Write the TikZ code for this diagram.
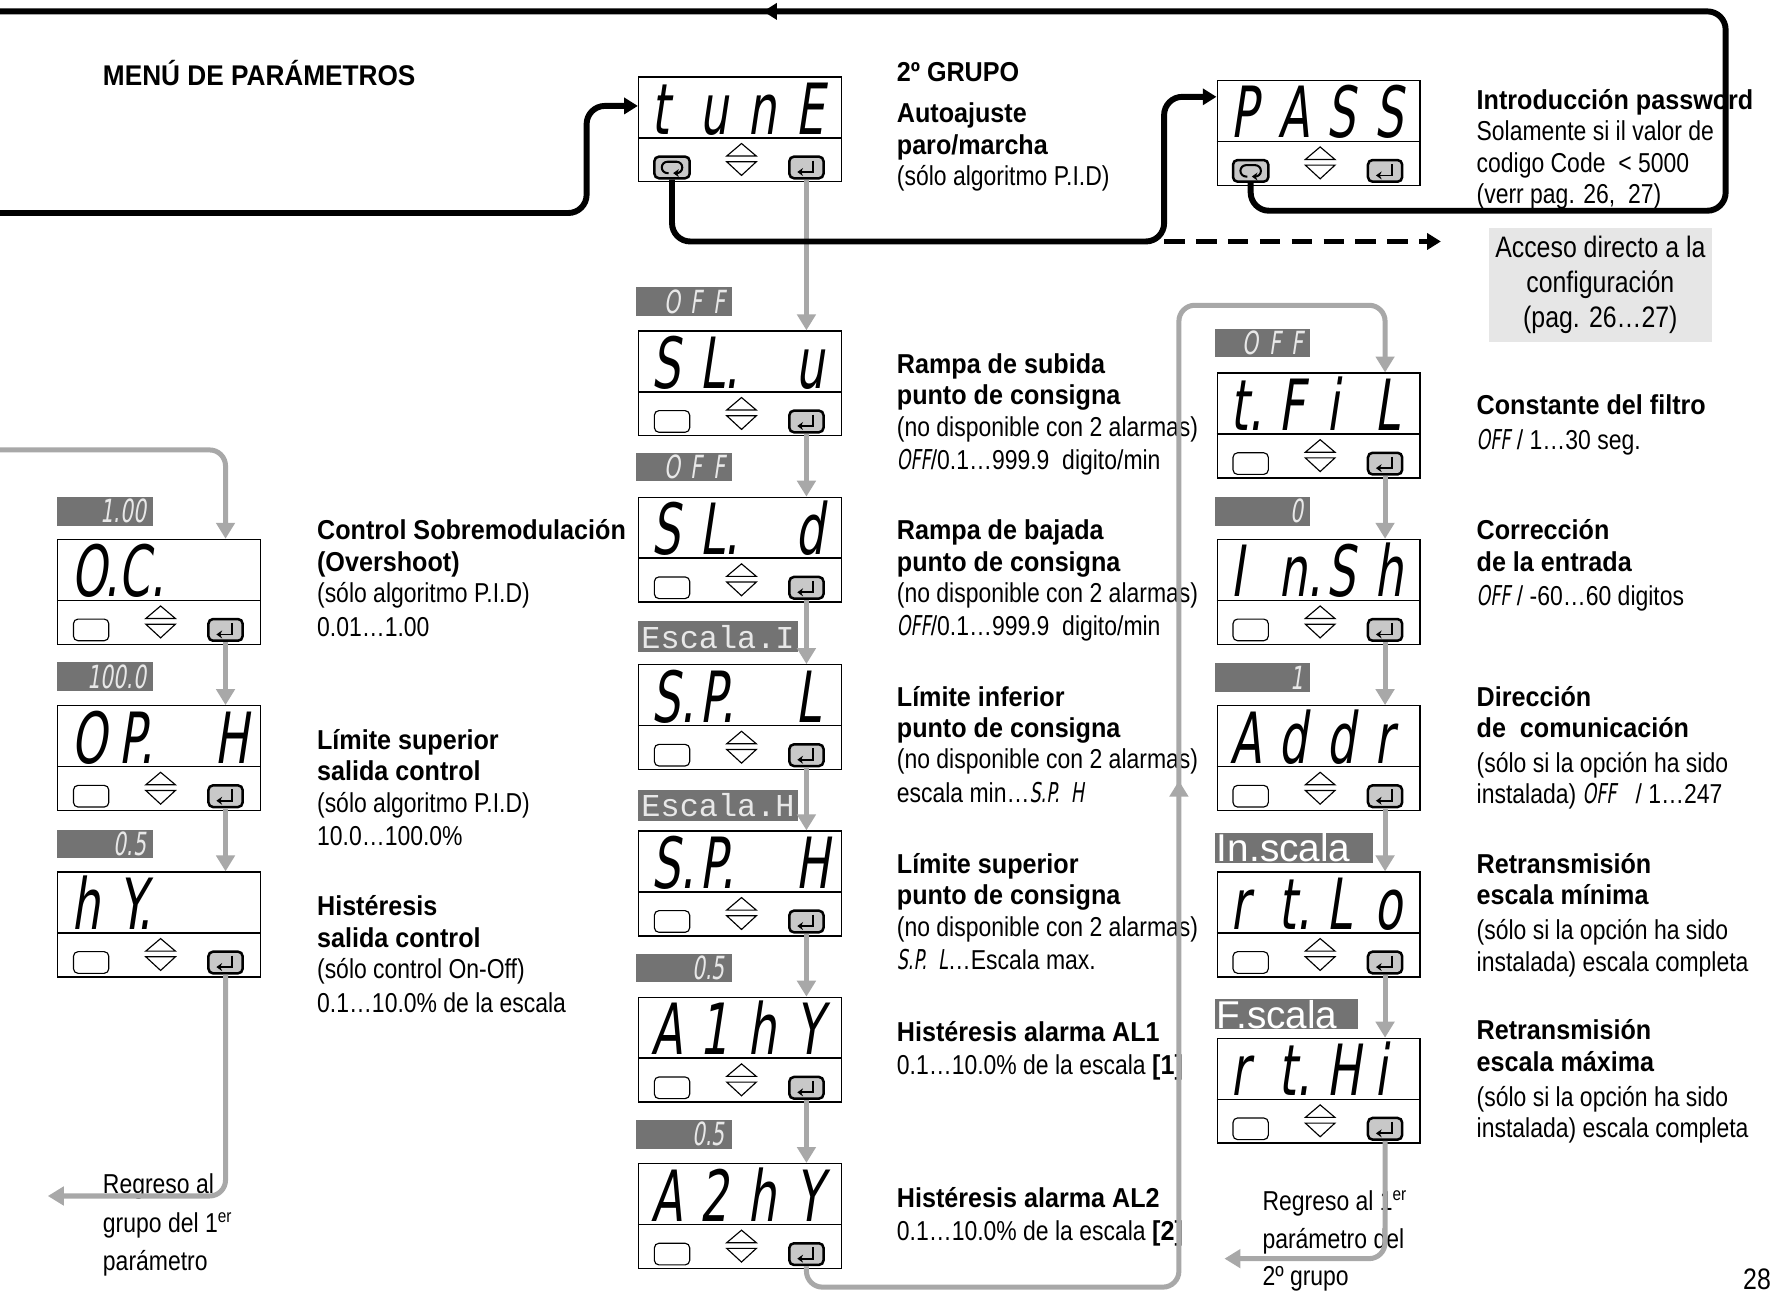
\documentclass[tikz,border=0pt]{standalone}
\usepackage{fontspec}
\setmainfont{Liberation Sans}[UprightFeatures={FakeStretch=0.84},BoldFeatures={FakeStretch=0.92}]
\newfontfamily\segfont{DejaVu Sans}[FakeSlant=0.15,FakeStretch=0.64]
\newfontfamily\tagmono{Liberation Mono}
\newfontfamily\tagsans{Liberation Sans}
\usetikzlibrary{arrows.meta, positioning, decorations.markings}

\definecolor{lgray}{HTML}{A8A8A8}
\definecolor{tagfill}{HTML}{737373}
\definecolor{tagtext}{HTML}{E8E8E8}
\definecolor{btngray}{HTML}{C8C8C8}
\definecolor{boxgray}{HTML}{E6E6E6}

% seven segment look, inline and in display cells
\newcommand{\sg}[1]{{\segfont #1}}
\newcommand{\dc}[1]{\makebox[21pt][l]{#1}}
% one keypad: [left key style]{name}{x}{y}{cell1}{cell2}{cell3}{cell4}
\newcommand{\panel}[8][plainbtn]{%
  \node[panelbox] (#2) at (#3,#4) {};
  \draw[line width=0.6pt] (#3,#4+54) -- (#3+178,#4+54);
  \node[dispfont, anchor=base west] at (#3+12,#4+51) {\dc{#5}\dc{#6}\dc{#7}\dc{#8}};
  \node[#1] (#2-esc) at (#3+30,#4+80) {};
  \draw[line width=0.5pt] (#3+78,#4+70) -- (#3+91,#4+59) -- (#3+104,#4+70) -- cycle;
  \draw[line width=0.5pt] (#3+78,#4+75) -- (#3+91,#4+87) -- (#3+104,#4+75) -- cycle;
  \node[okbtn] (#2-ok) at (#3+148,#4+80) {};
  \draw[line width=0.8pt, -{Stealth[length=2.5pt,width=3.5pt]}] (#3+154,#4+74) -- (#3+154,#4+84) -- (#3+140,#4+84);
}
\newcommand{\loopkey}[1]{\draw[line width=0.9pt, rounded corners=2.5pt, -{Stealth[length=2.5pt,width=3.5pt]}] ([shift={(-3,5)}]#1.center) -- ++(-6,0) -- ++(0,-10) -- ++(18,0) -- ++(0,10) -- ++(-8,0);}

\begin{document}
\begin{tikzpicture}[x=0.5pt, y=-0.5pt,
    panelbox/.style={draw, line width=0.6pt, anchor=north west, minimum width=89pt, minimum height=46pt, inner sep=0pt},
    plainbtn/.style={draw, line width=0.5pt, rounded corners=2pt, minimum width=15.5pt, minimum height=9.5pt, inner sep=0pt},
    escbtn/.style={plainbtn, fill=btngray, line width=1.1pt},
    okbtn/.style={plainbtn, fill=btngray, line width=1.1pt, minimum width=15pt},
    dispfont/.style={inner sep=0pt, font=\segfont\fontsize{31}{31}\selectfont},
    tag/.style={fill=tagfill, text=tagtext, anchor=north west, minimum height=12.5pt, text width=36pt, align=right, inner xsep=3pt, inner ysep=0pt, font=\segfont\fontsize{14}{14}\selectfont},
    mtag/.style={fill=tagfill, text=tagtext, anchor=north west, minimum width=70pt, minimum height=13.5pt, inner sep=0pt, font=\tagmono\fontsize{14}{14}\selectfont},
    stag/.style={fill=tagfill, text=white, anchor=north west, minimum height=13pt, inner xsep=1pt, inner ysep=0pt, align=left, font=\tagsans\fontsize{17}{17}\selectfont},
    desc/.style={anchor=north west, align=left, inner sep=0pt, font=\fontsize{12}{13.75}\selectfont},
    gline/.style={draw=lgray, line width=2.2pt, rounded corners=7pt},
    bline/.style={draw=black, line width=2.6pt, rounded corners=8pt},
    gtip/.style={-{Triangle[length=7pt,width=8pt]}},
    btip/.style={-{Triangle[length=6pt,width=7pt]}}
]
\path[fill=white] (0,0) rectangle (1568,1136);
\useasboundingbox (0,0) rectangle (1568,1136);

% keypads
\panel[escbtn]{tune}{560}{67}{t}{u}{n}{E}
\panel[escbtn]{pass}{1068}{70}{P}{A}{S}{S}
\loopkey{tune-esc}
\loopkey{pass-esc}
\panel{slu}{560}{290}{S}{L.}{}{u}
\panel{sld}{560}{436}{S}{L.}{}{d}
\panel{spl}{560}{583}{S.}{P.}{}{L}
\panel{sph}{560}{729}{S.}{P.}{}{H}
\panel{a1hy}{560}{875}{A}{1}{h}{Y}
\panel{a2hy}{560}{1021}{A}{2}{h}{Y}
\panel{oc}{50}{473}{O.}{C.}{}{}
\panel{oph}{50}{619}{O}{P.}{}{H}
\panel{hy}{50}{765}{h}{Y.}{}{}
\panel{tfil}{1068}{327}{t.}{F}{i}{L}
\panel{insh}{1068}{473}{I}{n.}{S}{h}
\panel{addr}{1068}{619}{A}{d}{d}{r}
\panel{rtlo}{1068}{765}{r}{t.}{L}{o}
\panel{rthi}{1068}{911}{r}{t.}{H}{i}

% value tags
\node[tag] (v-slu) at (558,252) {O F F};
\node[tag] (v-sld) at (558,397) {O F F};
\node[mtag] (v-spl) at (560,545) {Escala.I};
\node[mtag] (v-sph) at (560,693) {Escala.H};
\node[tag] (v-a1hy) at (558,837) {0.5};
\node[tag] (v-a2hy) at (558,983) {0.5};
\node[tag] (v-oc) at (50,436) {1.00};
\node[tag] (v-oph) at (50,581) {100.0};
\node[tag] (v-hy) at (50,728) {0.5};
\node[tag] (v-tfil) at (1066,288) {O F F};
\node[tag] (v-insh) at (1066,436) {0};
\node[tag] (v-addr) at (1066,582) {1};
\node[stag, text width=67.5pt] (v-rtlo) at (1066,731) {In.scala};
\node[stag, text width=61pt] (v-rthi) at (1066,877) {F.scala};

% texts
\node[anchor=west, inner sep=0pt, font=\bfseries\fontsize{12.5}{12.5}\selectfont] (title) at (90,64) {MENÚ DE PARÁMETROS};
\node[anchor=west, inner sep=0pt, font=\bfseries\fontsize{12}{12}\selectfont] (grp) at (787,63) {2º GRUPO};
\node[desc] (t-tune) at (787,90) {\textbf{Autoajuste}\\\textbf{paro/marcha}\\(sólo algoritmo P.I.D)};
\node[desc] (t-pass) at (1296,78) {\textbf{Introducción password}\\Solamente si il valor de\\codigo Code~~< 5000\\(verr pag. 26,~~27)};
\node[desc] (t-slu) at (787,310) {\textbf{Rampa de subida}\\\textbf{punto de consigna}\\(no disponible con 2 alarmas)\\[1pt]\sg{OFF}/0.1…999.9~~digito/min};
\node[desc] (t-sld) at (787,456) {\textbf{Rampa de bajada}\\\textbf{punto de consigna}\\(no disponible con 2 alarmas)\\[1pt]\sg{OFF}/0.1…999.9~~digito/min};
\node[desc] (t-spl) at (787,602) {\textbf{Límite inferior}\\\textbf{punto de consigna}\\(no disponible con 2 alarmas)\\[1pt]escala min…\sg{S.P.~~H}};
\node[desc] (t-sph) at (787,749) {\textbf{Límite superior}\\\textbf{punto de consigna}\\(no disponible con 2 alarmas)\\[1pt]\sg{S.P.~~L}…Escala max.};
\node[desc] (t-a1hy) at (787,896) {\textbf{Histéresis alarma AL1}\\[1pt]0.1…10.0\% de la escala \textbf{[1]}};
\node[desc] (t-a2hy) at (787,1042) {\textbf{Histéresis alarma AL2}\\[1pt]0.1…10.0\% de la escala \textbf{[2]}};
\node[desc] (t-oc) at (278,456) {\textbf{Control Sobremodulación}\\\textbf{(Overshoot)}\\(sólo algoritmo P.I.D)\\[1pt]0.01…1.00};
\node[desc] (t-oph) at (278,640) {\textbf{Límite superior}\\\textbf{salida control}\\(sólo algoritmo P.I.D)\\[1pt]10.0…100.0\%};
\node[desc] (t-hy) at (278,786) {\textbf{Histéresis}\\\textbf{salida control}\\(sólo control On-Off)\\[1pt]0.1…10.0\% de la escala};
\node[desc, font=\fontsize{12}{17}\selectfont] (t-back1) at (90,1030) {Regreso al\\grupo del 1\textsuperscript{er}\\parámetro};
\node[desc] (t-tfil) at (1296,346) {\textbf{Constante del filtro}\\[1.5pt]\sg{OFF} / 1…30 seg.};
\node[desc] (t-insh) at (1296,456) {\textbf{Corrección}\\\textbf{de la entrada}\\[1.5pt]\sg{OFF} / -60…60 digitos};
\node[desc] (t-addr) at (1296,602) {\textbf{Dirección}\\\textbf{de~~comunicación}\\[1.5pt](sólo si la opción ha sido\\instalada) \sg{OFF}~~ / 1…247};
\node[desc] (t-rtlo) at (1296,749) {\textbf{Retransmisión}\\\textbf{escala mínima}\\[1.5pt](sólo si la opción ha sido\\instalada) escala completa};
\node[desc] (t-rthi) at (1296,895) {\textbf{Retransmisión}\\\textbf{escala máxima}\\[1.5pt](sólo si la opción ha sido\\instalada) escala completa};
\node[desc, font=\fontsize{12}{16.5}\selectfont] (t-back2) at (1108,1045) {Regreso al 1\textsuperscript{er}\\parámetro del\\2º grupo};
\node[fill=boxgray, minimum width=98pt, minimum height=50pt, inner sep=0pt, align=center, font=\fontsize{13}{15.5}\selectfont] (acc) at (1405,250) {Acceso directo a la\\configuración\\(pag. 26…27)};
\node[anchor=south west, inner sep=0pt, font=\fontsize{13}{13}\selectfont] (pg) at (1530,1133) {28};

% free ends
\coordinate (bin) at (0,187);
\coordinate (bup) at (515,93);
\coordinate (bmid) at (1022,212);
\coordinate (bpas) at (1022,85);
\coordinate (dend) at (1265,212);
\coordinate (rcor) at (1515,185);
\coordinate (tcor) at (1515,10);
\coordinate (lend) at (0,10);
\coordinate (lin) at (0,395);
\coordinate (lret) at (42,1050);
\coordinate (lowr) at (1035,1130);
\coordinate (topr) at (1035,268);
\coordinate (rret) at (1075,1105);

% gray chain
\draw[gline, gtip] (tune-ok.south) -- (slu.north -| tune-ok);
\foreach \a/\b in {slu/sld, sld/spl, spl/sph, sph/a1hy, a1hy/a2hy, oc/oph, oph/hy, tfil/insh, insh/addr, addr/rtlo, rtlo/rthi}
  \draw[gline, gtip] (\a-ok.south) -- (\b.north -| \a-ok);
\draw[gline, gtip] (lin) -| (oc.north -| oc-ok);
\draw[gline, gtip] (hy-ok.south) |- (lret);
\draw[gline, gtip] (rthi-ok.south) |- (rret);
\draw[gline, gtip, postaction={decorate}, decoration={markings, mark=at position 389pt with {\arrow[lgray]{Triangle[length=7pt,width=8pt]}}}]
  (a2hy-ok.south) |- (lowr) -- (topr) -| (tfil.north -| tfil-ok);

% black paths
\draw[bline, btip] (bin) -| (bup) -- (tune.west |- bup);
\draw[bline, btip] (tune-esc.south) |- (bmid) -- (bpas) -- (pass.west |- bpas);
\draw[bline, btip, dash pattern=on 9pt off 5pt] (bmid) -- (dend);
\draw[bline, postaction={decorate}, decoration={markings, mark=at position -335pt with {\arrow{Triangle[length=6pt,width=7pt]}}}]
  (pass-esc.south) |- (rcor) -- (tcor) -- (lend);
\end{tikzpicture}
\end{document}
